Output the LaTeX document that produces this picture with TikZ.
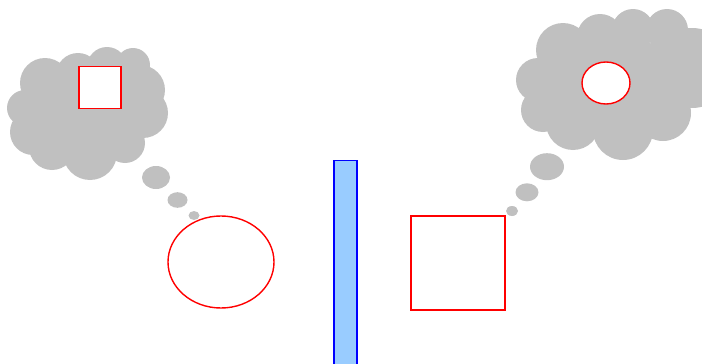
\documentclass[tikz,border=0pt]{standalone}
\usetikzlibrary{shapes.geometric}
\definecolor{barfill}{RGB}{153,204,255}
\definecolor{cloudgray}{RGB}{192,192,192}
\begin{document}
\begin{tikzpicture}[x=1pt,y=-1pt,
  puff/.style={fill=cloudgray},
  redline/.style={draw=red, line width=1.4pt, fill=white, inner sep=0pt}]
\useasboundingbox (0,0) rectangle (702,364);
% left thought cloud
\begin{scope}[puff]
\fill (88,110) ellipse (60pt and 45pt);
\fill (45,83) circle (25pt);
\fill (78,75) circle (22pt);
\fill (107,67) circle (20pt);
\fill (133,65) circle (17pt);
\fill (140,90) circle (25pt);
\fill (143,113) circle (25pt);
\fill (125,143) circle (20pt);
\fill (90,153) circle (27pt);
\fill (52,147) circle (23pt);
\fill (33,132) circle (23pt);
\fill (25,108) circle (18pt);
% bubbles
\fill (156,177.5) ellipse (14pt and 11.5pt);
\fill (177.5,200) ellipse (10pt and 7.8pt);
\fill (194,215.5) ellipse (5.5pt and 4.5pt);
\end{scope}
\node[redline, rectangle, minimum width=42pt, minimum height=42pt] (sq1) at (100,87.5) {};
% right thought cloud
\begin{scope}[puff]
\fill (612,85) ellipse (70pt and 50pt);
\fill (538,80) circle (22pt);
\fill (563,50) circle (27pt);
\fill (600,37) circle (23pt);
\fill (633,30) circle (21pt);
\fill (667,30) circle (21pt);
\fill (692,68) circle (40pt);
\fill (663,113) circle (28pt);
\fill (623,130) circle (30pt);
\fill (573,123) circle (27pt);
\fill (543,110) circle (22pt);
% bubbles
\fill (547,166.7) ellipse (17pt and 13.5pt);
\fill (527,192.3) ellipse (11.5pt and 9pt);
\fill (512,211) ellipse (6pt and 5pt);
\end{scope}
\node[redline, ellipse, minimum width=48pt, minimum height=42pt] (el1) at (606,83) {};
% bottom objects
\node[redline, ellipse, minimum width=106pt, minimum height=92pt] (el2) at (221,262) {};
\node[redline, rectangle, minimum width=94pt, minimum height=94pt] (sq2) at (458,263) {};
% bar
\node[draw=blue, fill=barfill, line width=1.4pt, rectangle, inner sep=0pt, minimum width=23pt, minimum height=220pt, anchor=north] (bar) at (345.5,160) {};
\end{tikzpicture}
\end{document}
